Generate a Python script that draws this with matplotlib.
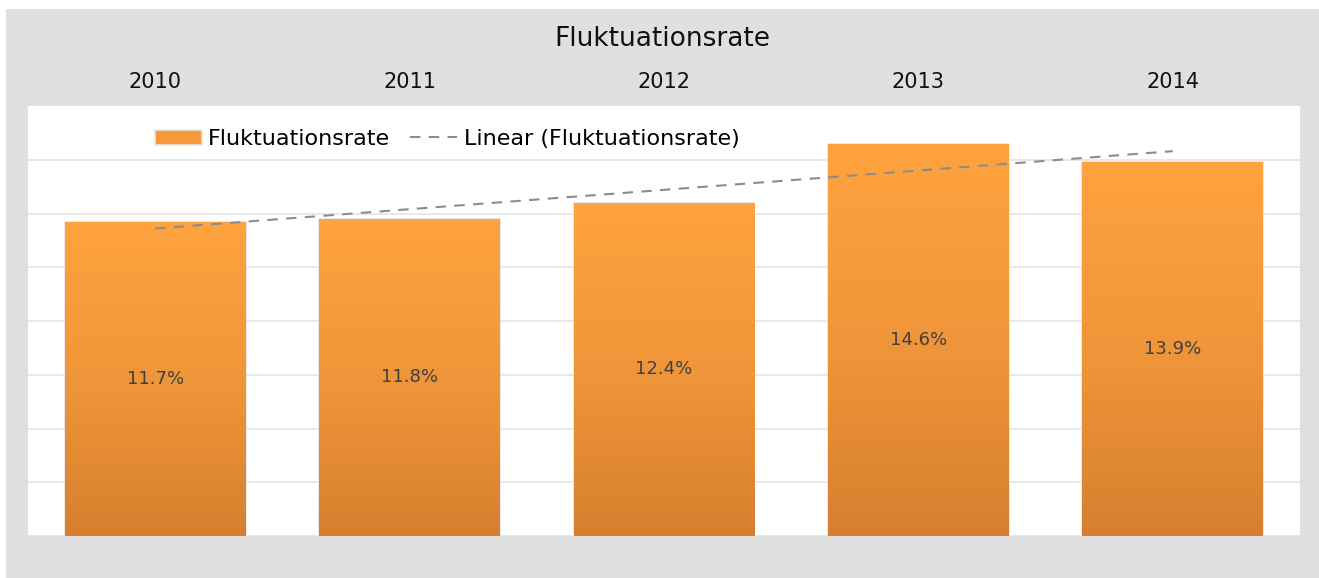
import numpy as np
import matplotlib
matplotlib.use("Agg")
import matplotlib.pyplot as plt
from matplotlib.patches import Rectangle
from matplotlib.colors import LinearSegmentedColormap

plt.rcParams['font.family'] = ['DejaVu Sans']

years = ['2010', '2011', '2012', '2013', '2014']
rates = [11.7, 11.8, 12.4, 14.6, 13.9]
series_name = 'Fluktuationsrate'

W, H = 1319, 578
fig = plt.figure(figsize=(W / 100, H / 100), dpi=100)
fig.patch.set_facecolor('white')
# grauer Hintergrund des Diagrammbereichs
fig.patches.append(Rectangle((6 / W, 0), 1 - 6 / W, (H - 9) / H,
                             transform=fig.transFigure, facecolor='#e0e0e0',
                             edgecolor='none', zorder=-10))

ax = fig.add_axes([28 / W, (H - 536) / H, 1272 / W, 430 / H])
ax.set_facecolor('white')

x = np.arange(len(years))
bars = ax.bar(x, rates, width=0.71, color='#f7993b', edgecolor='#e6e6e6',
              linewidth=1.2, zorder=2, label=series_name)

# Farbverlauf in den Balken
cmap = LinearSegmentedColormap.from_list('og', ['#d77f2e', '#f0963a', '#ffa33f'])
grad = np.linspace(0, 1, 256).reshape(-1, 1)
for b in bars:
    x0, w, h = b.get_x(), b.get_width(), b.get_height()
    im = ax.imshow(grad, cmap=cmap, origin='lower', aspect='auto',
                   extent=[x0, x0 + w, 0, h], zorder=3)
    im.set_clip_path(b)

for xi, v in zip(x, rates):
    ax.text(xi, v / 2, f'{v:.1f}%', ha='center', va='center',
            fontsize=13, color='#404040', zorder=5)

# lineare Trendlinie
k, d = np.polyfit(x, rates, 1)
ax.plot(x, k * x + d, color='#8c8c8c', lw=1.5, ls=(0, (5, 4)), zorder=4,
        label=f'Linear ({series_name})')

ax.set_xlim(-0.5, len(years) - 0.5)
ax.set_ylim(0, 16)
ax.set_yticks(np.arange(0, 16, 2))
ax.yaxis.grid(True, color='#e4e4e4', lw=1.2)
ax.set_axisbelow(True)
ax.tick_params(axis='y', left=False, labelleft=False)
ax.xaxis.tick_top()
ax.set_xticks(x)
ax.set_xticklabels(years, fontsize=15, color='#111111')
ax.tick_params(axis='x', length=0, pad=10)
for s in ax.spines.values():
    s.set_visible(False)

ax.legend(handles=[bars, ax.lines[0]], loc='center left',
          bbox_to_anchor=(0.084, 0.923), ncol=2, frameon=False, fontsize=16,
          handlelength=2.1, handletextpad=0.3, columnspacing=0.9)

fig.text(0.502, (H - 39) / H, series_name, ha='center', va='center',
         fontsize=19, color='#111111')

fig.savefig('out.png', dpi=100)
